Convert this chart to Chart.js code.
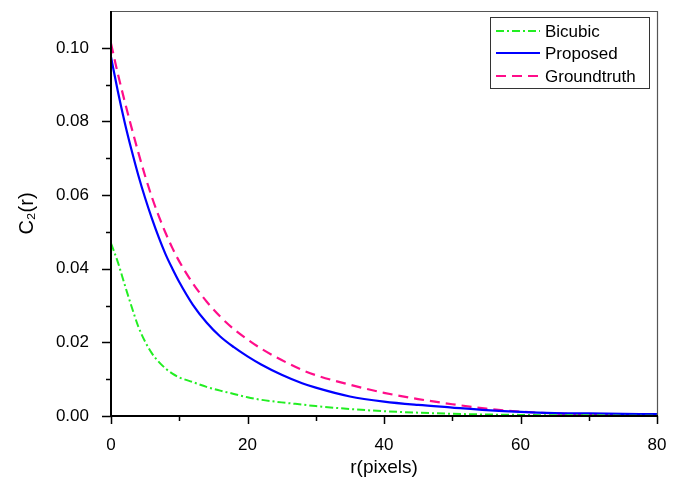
<!DOCTYPE html>
<html>
<head>
<meta charset="utf-8">
<script src="https://cdn.jsdelivr.net/npm/chart.js@4/dist/chart.umd.min.js"></script>
<style>
  body { margin: 0; background: #fff; }
  canvas { display: block; }
</style>
</head>
<body>
<canvas id="c2Chart" width="680" height="481"></canvas>
<script>
const rValues = [0, 1, 2, 3, 4, 5, 6, 7, 8, 9, 10, 12, 14, 16, 18, 20, 22, 25, 28, 30, 35, 40, 45, 50, 55, 60, 65, 70, 75, 80];

const bicubic = [0.0469, 0.0418, 0.0357, 0.0298, 0.0243, 0.0202, 0.0170, 0.0147, 0.0129, 0.0115, 0.0105, 0.0092, 0.0079, 0.0069, 0.0060, 0.0051, 0.0044, 0.0037, 0.0031, 0.0027, 0.0019, 0.0013, 0.0009, 0.0006, 0.0004, 0.0003, 0.0002, 0.0002, 0.0001, 0.0001];
const proposed = [0.0975, 0.0882, 0.0798, 0.0723, 0.0654, 0.0592, 0.0536, 0.0485, 0.0439, 0.0400, 0.0364, 0.0302, 0.0254, 0.0216, 0.0187, 0.0162, 0.0140, 0.0112, 0.0089, 0.0077, 0.0053, 0.0039, 0.0030, 0.0023, 0.0016, 0.0011, 0.0008, 0.0007, 0.0006, 0.0005];
const groundtruth = [0.1012, 0.0930, 0.0855, 0.0784, 0.0716, 0.0652, 0.0594, 0.0543, 0.0497, 0.0456, 0.0420, 0.0360, 0.0311, 0.0270, 0.0236, 0.0208, 0.0183, 0.0152, 0.0125, 0.0111, 0.0085, 0.0063, 0.0046, 0.0032, 0.0020, 0.0012, 0.0007, 0.0004, 0.0003, 0.0002];

const xMajorTicks = [0, 20, 40, 60, 80];
const xMinorTicks = [10, 30, 50, 70];
const yMajorTicks = [0, 0.02, 0.04, 0.06, 0.08, 0.10];
const yMinorTicks = [0.01, 0.03, 0.05, 0.07, 0.09];

const seriesLabels = ['Bicubic', 'Proposed', 'Groundtruth'];

const FONT = "'Liberation Sans', Arial, sans-serif";

function toPoints(values) {
  return rValues.map((r, i) => ({ x: r, y: values[i] }));
}

// Frame, ticks (major + minor) and the boxed legend
const framePlugin = {
  id: 'frame',
  afterDraw(chart) {
    const ctx = chart.ctx;
    const { left, right, top, bottom } = chart.chartArea;
    const xs = chart.scales.x;
    const ys = chart.scales.y;
    ctx.save();

    // top and right border
    ctx.strokeStyle = '#555';
    ctx.lineWidth = 1.2;
    ctx.beginPath();
    ctx.moveTo(left, top + 0.5);
    ctx.lineTo(right + 0.5, top + 0.5);
    ctx.lineTo(right + 0.5, bottom);
    ctx.stroke();

    // left and bottom axes
    ctx.strokeStyle = '#000';
    ctx.lineWidth = 2;
    ctx.beginPath();
    ctx.moveTo(left, top);
    ctx.lineTo(left, bottom);
    ctx.lineTo(right + 1, bottom);
    ctx.stroke();

    ctx.lineWidth = 1.5;
    ctx.beginPath();
    yMajorTicks.forEach(v => {
      const y = Math.round(ys.getPixelForValue(v)) + 0.5;
      ctx.moveTo(left - 9, y);
      ctx.lineTo(left, y);
    });
    yMinorTicks.forEach(v => {
      const y = Math.round(ys.getPixelForValue(v)) + 0.5;
      ctx.moveTo(left - 5, y);
      ctx.lineTo(left, y);
    });
    xMajorTicks.forEach(v => {
      const x = Math.round(xs.getPixelForValue(v)) + 0.5;
      ctx.moveTo(x, bottom);
      ctx.lineTo(x, bottom + 8);
    });
    xMinorTicks.forEach(v => {
      const x = Math.round(xs.getPixelForValue(v)) + 0.5;
      ctx.moveTo(x, bottom);
      ctx.lineTo(x, bottom + 5);
    });
    ctx.stroke();

    // legend
    const boxL = 490, boxT = 17, boxW = 159, boxH = 71;
    ctx.fillStyle = '#fff';
    ctx.fillRect(boxL, boxT, boxW, boxH);
    ctx.strokeStyle = '#333';
    ctx.lineWidth = 1;
    ctx.strokeRect(boxL + 0.5, boxT + 0.5, boxW, boxH);

    const rows = [31, 53, 76];
    ctx.font = '17px ' + FONT;
    ctx.textBaseline = 'middle';
    chart.data.datasets.forEach((ds, i) => {
      const y = rows[i];
      ctx.strokeStyle = ds.borderColor;
      ctx.lineWidth = ds.borderWidth;
      ctx.setLineDash(ds.borderDash || []);
      ctx.beginPath();
      ctx.moveTo(496, y);
      ctx.lineTo(540, y);
      ctx.stroke();
      ctx.setLineDash([]);
      ctx.fillStyle = '#000';
      ctx.fillText(ds.label, 545, y + 1);
    });

    ctx.restore();
  }
};

const ctx = document.getElementById('c2Chart').getContext('2d');
new Chart(ctx, {
  type: 'line',
  data: {
    datasets: [
      {
        label: seriesLabels[0],
        data: toPoints(bicubic),
        borderColor: '#22ee22',
        borderWidth: 2,
        borderDash: [8, 3, 2, 3]
      },
      {
        label: seriesLabels[1],
        data: toPoints(proposed),
        borderColor: '#0000ff',
        borderWidth: 2.2
      },
      {
        label: seriesLabels[2],
        data: toPoints(groundtruth),
        borderColor: '#ff0d8a',
        borderWidth: 2.2,
        borderDash: [10, 6]
      }
    ]
  },
  options: {
    responsive: false,
    animation: false,
    layout: { padding: { left: 0, top: 11, right: 23, bottom: 0 } },
    elements: {
      point: { radius: 0 },
      line: { cubicInterpolationMode: 'monotone', fill: false }
    },
    plugins: {
      legend: { display: false },
      tooltip: { enabled: false }
    },
    scales: {
      x: {
        type: 'linear',
        min: 0,
        max: 80,
        grid: { display: false },
        border: { display: false },
        afterBuildTicks: scale => { scale.ticks = xMajorTicks.map(v => ({ value: v })); },
        afterFit: scale => {
          scale.height = 65;
          scale.paddingLeft = 0;
          scale.paddingRight = 0;
        },
        ticks: {
          color: '#000',
          padding: 11,
          maxRotation: 0,
          font: { family: FONT, size: 17 },
          callback: v => String(v)
        },
        title: {
          display: true,
          text: 'r(pixels)',
          color: '#000',
          padding: { top: 0, bottom: 2 },
          font: { family: FONT, size: 19 }
        }
      },
      y: {
        type: 'linear',
        min: 0,
        max: 0.11,
        grid: { display: false },
        border: { display: false },
        afterBuildTicks: scale => { scale.ticks = yMajorTicks.map(v => ({ value: v })); },
        afterFit: scale => {
          scale.width = 111;
          scale.paddingTop = 0;
          scale.paddingBottom = 0;
        },
        ticks: {
          color: '#000',
          padding: 14,
          font: { family: FONT, size: 17 },
          callback: v => v.toFixed(2)
        },
        title: {
          display: true,
          text: 'C₂(r)',
          color: '#000',
          padding: { top: 15, bottom: 0 },
          font: { family: FONT, size: 20 }
        }
      }
    }
  },
  plugins: [framePlugin]
});
</script>
</body>
</html>
